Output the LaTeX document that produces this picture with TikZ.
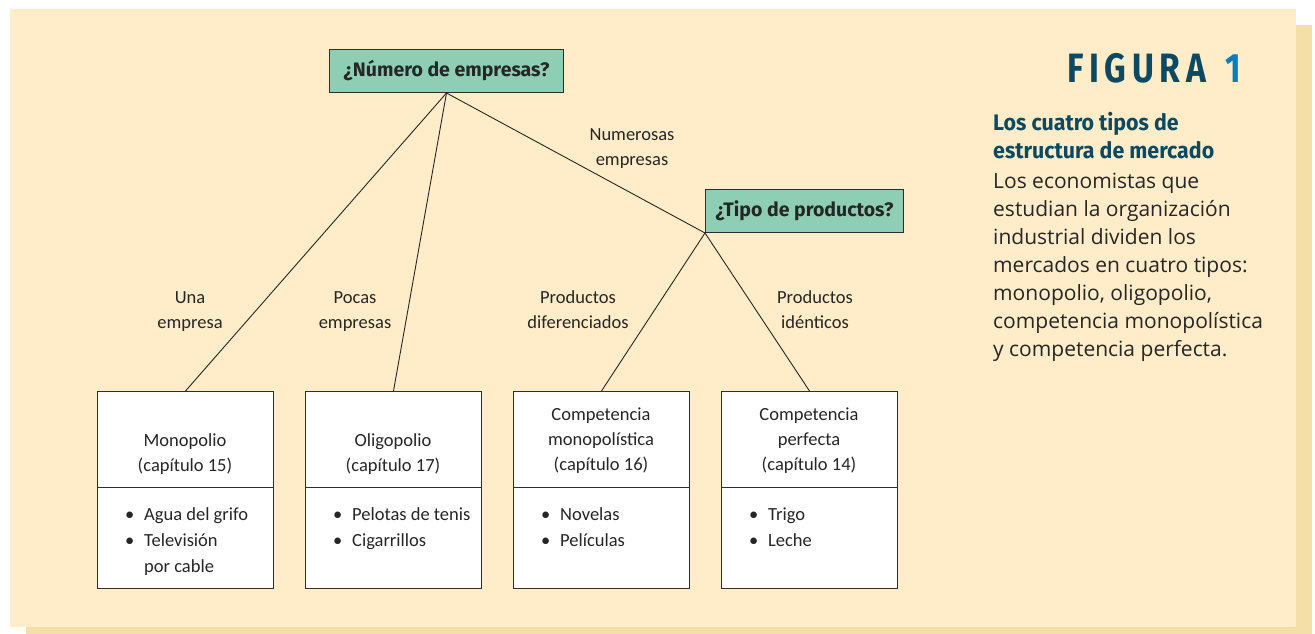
\documentclass[tikz,border=0pt]{standalone}
\usepackage{fontspec}
\setmainfont{Carlito}
\newfontfamily\hdfont{Fira Sans}
\newfontfamily\sidefont{Open Sans}
\newfontfamily\figfont{Fira Sans}[FakeStretch=0.82,LetterSpace=14]
\newfontfamily\subfont{Fira Sans}[FakeStretch=0.95]
\definecolor{panel}{RGB}{254,237,200}
\definecolor{shadowc}{RGB}{245,223,168}
\definecolor{qgreen}{RGB}{142,206,180}
\definecolor{tealc}{RGB}{12,74,99}
\definecolor{figblue}{RGB}{10,125,194}
\definecolor{edgec}{RGB}{45,45,45}
\begin{document}
\begin{tikzpicture}[x=1pt,y=-1pt,
  qbox/.style={draw=edgec, line width=1pt, fill=qgreen, anchor=north west, inner sep=0pt,
    font=\hdfont\bfseries\fontsize{19.5}{22}\selectfont, text=black!85},
  mbox/.style={draw=edgec, line width=1pt, fill=white, anchor=north west, inner sep=0pt,
    minimum width=176pt, minimum height=197pt},
  conn/.style={draw=black!85, line width=0.9pt},
  lbl/.style={align=center, inner sep=0pt, anchor=base, text=black!85,
    font=\fontsize{18.5}{25}\selectfont},
  btxt/.style={align=center, inner sep=0pt, anchor=base, text=black!85,
    font=\fontsize{18.5}{25}\selectfont},
  blist/.style={align=left, inner sep=0pt, anchor=base west, text=black!85,
    font=\fontsize{18.5}{26}\selectfont}
]
\useasboundingbox (0,0) rectangle (1315,634);
\fill[shadowc] (26,25) rectangle (1312,634);
\fill[panel] (10,9) rectangle (1296,627);

% question boxes
\node[qbox, minimum width=234pt, minimum height=43pt] (q1) at (329,49) {¿Número de empresas?};
\node[qbox, minimum width=198pt, minimum height=43pt] (q2) at (705,189) {¿Tipo de productos?};

% market boxes
\node[mbox] (b1) at (97,391) {};
\node[mbox] (b2) at (305,391) {};
\node[mbox] (b3) at (513,391) {};
\node[mbox] (b4) at (721,391) {};
\foreach \b in {b1,b2,b3,b4}{
  \draw[draw=edgec, line width=1pt] ([yshift=-96pt]\b.north west) -- ([yshift=-96pt]\b.north east);
}

% connectors
\draw[conn] (q1.south) -- (b1.north);
\draw[conn] (q1.south) -- (b2.north);
\draw[conn] (q1.south) -- (q2.south west);
\draw[conn] (q2.south west) -- (b3.north);
\draw[conn] (q2.south west) -- (b4.north);

% connector labels (anchor = baseline of last line)
\node[lbl] (l1) at (190,328) {Una\\empresa};
\node[lbl] (l2) at (355,328) {Pocas\\empresas};
\node[lbl] (l3) at (632,165) {Numerosas\\empresas};
\node[lbl] (l4) at (578,328) {Productos\\diferenciados};
\node[lbl] (l5) at (815,328) {Productos\\idénticos};

% box titles
\node[btxt] (t1) at (185,471) {Monopolio\\(capítulo 15)};
\node[btxt] (t2) at (393,471) {Oligopolio\\(capítulo 17)};
\node[btxt] (t3) at (601,470) {Competencia\\monopolística\\(capítulo 16)};
\node[btxt] (t4) at (809,470) {Competencia\\perfecta\\(capítulo 14)};

% examples
\newcommand{\bul}{\makebox[19pt][l]{•}}
\node[blist] (e1) at (125,572) {\bul Agua del grifo\\\bul Televisión\\\hspace*{19pt}por cable};
\node[blist] (e2) at (333,546) {\bul Pelotas de tenis\\\bul Cigarrillos};
\node[blist] (e3) at (541,546) {\bul Novelas\\\bul Películas};
\node[blist] (e4) at (749,546) {\bul Trigo\\\bul Leche};

% side caption
\node[inner sep=0pt, anchor=base west, font=\figfont\bfseries\fontsize{41}{44}\selectfont] (fig) at (1067,83)
  {\textcolor{tealc}{FIGURA}\hspace{19pt}\textcolor{figblue}{1}};
\node[inner sep=0pt, anchor=base west, align=left, text=tealc,
  font=\subfont\bfseries\fontsize{22.5}{28}\selectfont] (sub) at (993,158)
  {Los cuatro tipos de\\estructura de mercado};
\node[inner sep=0pt, anchor=base west, align=left, text=black!85,
  font=\sidefont\fontsize{21}{28}\selectfont] (body) at (993,356)
  {Los economistas que\\estudian la organización\\industrial dividen los\\mercados en cuatro tipos:\\monopolio, oligopolio,\\competencia monopolística\\y competencia perfecta.};
\end{tikzpicture}
\end{document}
